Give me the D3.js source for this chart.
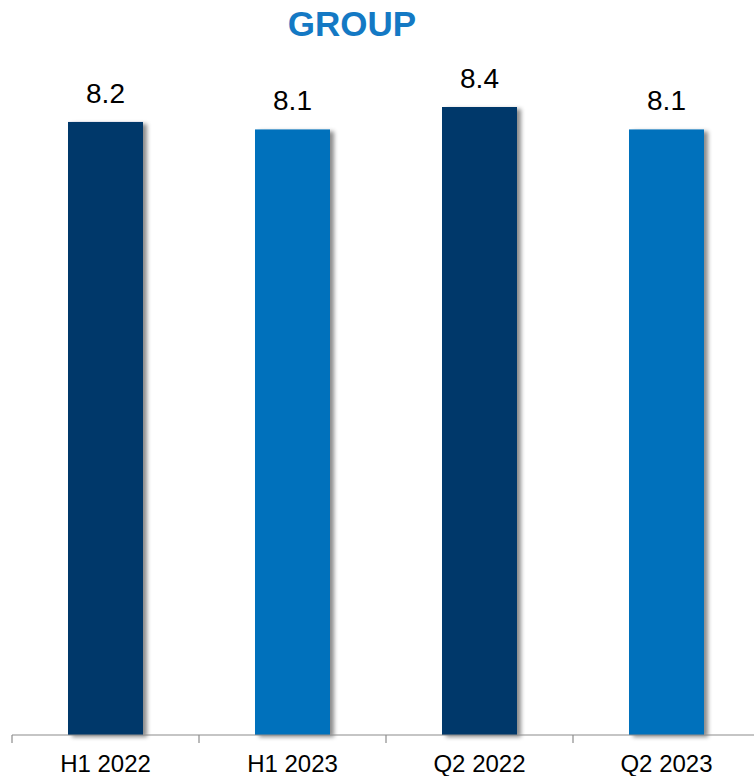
<!DOCTYPE html>
<html><head><meta charset="utf-8">
<script src="https://cdn.jsdelivr.net/npm/d3@7"></script>
<style>body{margin:0;background:#fff}svg{display:block}</style>
</head><body><svg id="c" width="754" height="776"></svg>
<script>
const categories = ["H1 2022", "H1 2023", "Q2 2022", "Q2 2023"];
const values = [8.2, 8.1, 8.4, 8.1];
const colors = ["#00386B", "#0071BC", "#00386B", "#0071BC"];
const title = "GROUP";

const svg = d3.select("#c");
const defs = svg.append("defs");
const f = defs.append("filter").attr("id","sh").attr("x","-20%").attr("y","-5%").attr("width","150%").attr("height","115%");
f.append("feDropShadow").attr("dx",4).attr("dy",2).attr("stdDeviation",2.2).attr("flood-color","#000").attr("flood-opacity",0.45);

const baseY = 735;
const x = d3.scaleBand().domain(categories).range([12, 760]).paddingInner(0).paddingOuter(0);
const y = d3.scaleLinear().domain([0, 8.4]).range([baseY, 107]);
const bw = 75;

svg.append("text").attr("x", 352).attr("y", 36).attr("text-anchor","middle")
  .attr("font-family","Liberation Sans, Arial, sans-serif").attr("font-weight","bold")
  .attr("font-size", 35).attr("fill","#1479C4").text(title);

const g = svg.append("g");
g.selectAll("rect").data(values).join("rect")
  .attr("x", (d,i) => x(categories[i]) + x.bandwidth()/2 - bw/2)
  .attr("width", bw)
  .attr("y", d => y(d))
  .attr("height", d => baseY - y(d))
  .attr("fill", (d,i) => colors[i])
  .attr("filter","url(#sh)");

g.selectAll("text.v").data(values).join("text").attr("class","v")
  .attr("x", (d,i) => x(categories[i]) + x.bandwidth()/2)
  .attr("y", d => y(d) - 19)
  .attr("text-anchor","middle")
  .attr("font-family","Liberation Sans, Arial, sans-serif")
  .attr("font-size", 28).attr("fill","#000")
  .text(d => d.toFixed(1));

const ax = svg.append("g").attr("transform", `translate(0,${baseY})`);
ax.append("line").attr("x1",12).attr("x2",760).attr("y1",0).attr("y2",0).attr("stroke","#8C8C8C").attr("stroke-width",1.2);
const edges = categories.map(c => x(c));
ax.selectAll("line.t").data(edges).join("line").attr("class","t")
  .attr("x1",d=>d).attr("x2",d=>d).attr("y1",0).attr("y2",8).attr("stroke","#8C8C8C").attr("stroke-width",1.2);
ax.selectAll("text.l").data(categories).join("text").attr("class","l")
  .attr("x", d => x(d) + x.bandwidth()/2).attr("y", 37)
  .attr("text-anchor","middle")
  .attr("font-family","Liberation Sans, Arial, sans-serif")
  .attr("font-size", 24).attr("fill","#000").text(d => d);
</script></body></html>
